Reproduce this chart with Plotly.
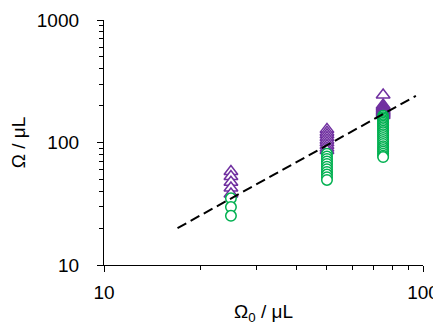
import plotly.graph_objects as go

# Data
purple_x = [25, 25, 25, 25, 25,
            50, 50, 50, 50, 50, 50, 50, 50, 50,
            75, 75, 75, 75, 75, 75, 75, 75, 75, 75, 75]
purple_y = [58, 52.7, 47.3, 42.5, 38,
            128, 121.5, 115.5, 110, 104.5, 99.5, 94.6, 90, 86,
            244, 202, 198, 194, 190, 186, 182, 178, 174, 170, 166]

green_x = [25, 25, 25,
           50, 50, 50, 50, 50, 50, 50, 50, 50, 50, 50,
           75, 75, 75, 75, 75, 75, 75, 75, 75, 75, 75, 75, 75,
           75, 75, 75, 75, 75, 75, 75, 75, 75, 75, 75, 75]
green_y = [35, 29.7, 25.2,
           81, 77, 73.5, 70, 66.7, 63.5, 60.5, 57.5, 54.7, 52, 49.5,
           165, 161, 157, 153, 149, 145, 141, 137, 133, 129, 125, 121, 117,
           113, 109, 105, 101, 97, 93, 90, 87, 84, 81, 78, 76]

fit_x = [17, 95]
fit_y = [20, 240]

PURPLE = "#7030A0"
GREEN = "#00B050"
FONT = "Liberation Sans, Arial, sans-serif"

fig = go.Figure()
fig.add_trace(go.Scatter(
    x=purple_x, y=purple_y, mode="markers",
    marker=dict(symbol="triangle-up", size=12, color="white",
                line=dict(color=PURPLE, width=1.5)),
    showlegend=False))
fig.add_trace(go.Scatter(
    x=green_x, y=green_y, mode="markers",
    marker=dict(symbol="circle", size=10.5, color="white",
                line=dict(color=GREEN, width=1.5)),
    showlegend=False))
fig.add_trace(go.Scatter(
    x=fit_x, y=fit_y, mode="lines",
    line=dict(color="black", width=2, dash="10px,5px"),
    showlegend=False))

axis_common = dict(
    type="log", showgrid=False, zeroline=False, automargin=False,
    showline=True, linecolor="black", linewidth=1.3,
    ticks="outside", ticklen=6, tickwidth=1.3, tickcolor="black",
    dtick=1,
    minor=dict(ticks="outside", ticklen=4, tickwidth=1, tickcolor="black",
               dtick="D1", showgrid=False),
    tickfont=dict(family=FONT, size=19, color="black"),
)

fig.update_xaxes(**axis_common, range=[1, 2], ticklabelstandoff=4,
                 title=dict(text="Ω<sub>0</sub> / μL",
                            font=dict(family=FONT, size=19, color="black"),
                            standoff=2))
fig.update_yaxes(**axis_common, range=[1, 3], ticklabelstandoff=14,
                 title=dict(text="Ω / μL",
                            font=dict(family=FONT, size=19, color="black"),
                            standoff=12))

# The page body has an 8px margin, so the figure is sized to fill the rest
fig.update_layout(
    width=433, height=319,
    margin=dict(l=96, r=18, t=12, b=62),
    plot_bgcolor="white", paper_bgcolor="white",
)

fig.write_html("out.html")
